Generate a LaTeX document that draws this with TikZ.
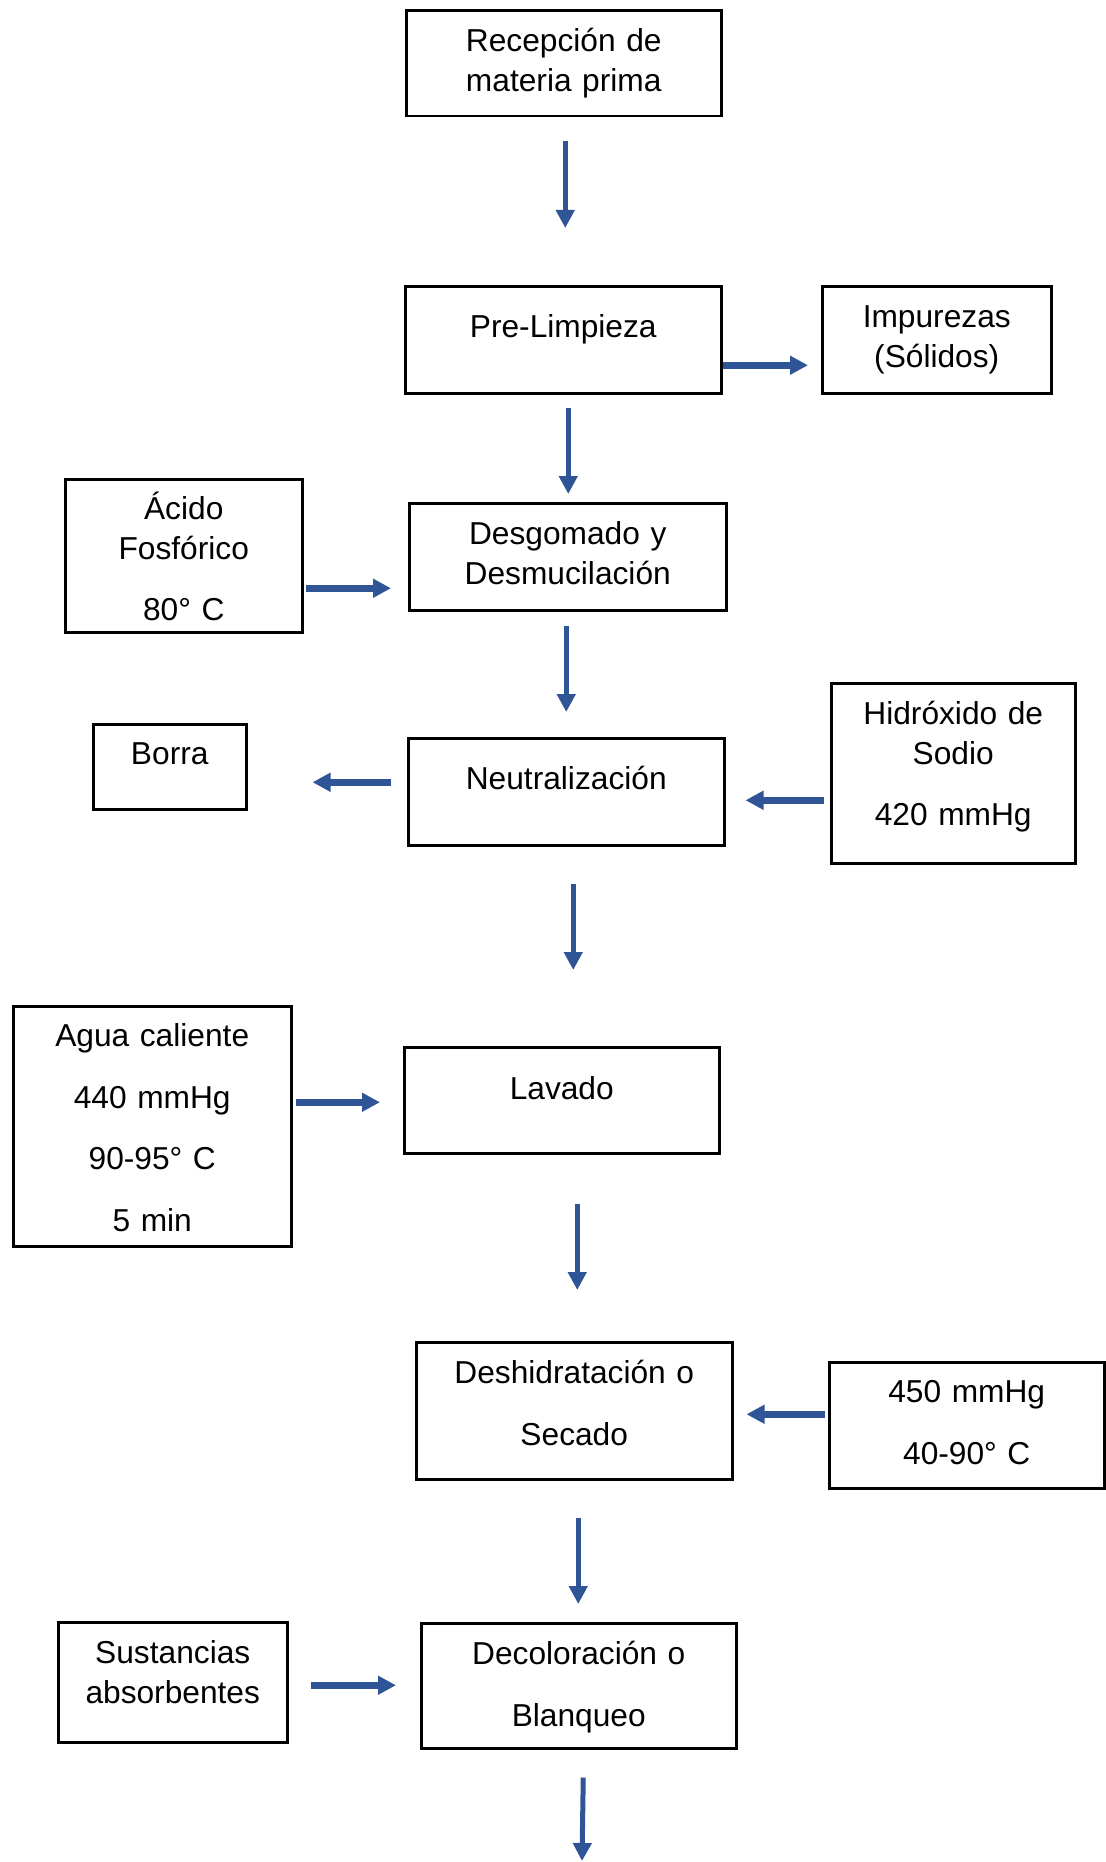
\documentclass[tikz,border=0pt]{standalone}
\usepackage{fontspec}
\setmainfont{Liberation Sans}
\usetikzlibrary{arrows.meta,calc}
\definecolor{flowblue}{RGB}{47,85,151}
\tikzset{
  box/.style={draw=black, line width=1.25pt, inner sep=0pt, align=center,
    anchor=north west, font=\fontsize{15.85}{19.75}\selectfont},
  vflow/.style={draw=flowblue, line width=2.5pt,
    -{Triangle[length=9pt,width=9pt]}},
  hflow/.style={draw=flowblue, line width=3.5pt,
    -{Triangle[length=9pt,width=9pt]}}
}
\begin{document}
\begin{tikzpicture}[x=0.5pt,y=-0.5pt]
\useasboundingbox (0,0) rectangle (1105,1862);

% process steps and side streams
\node[box, text width=157.5pt, text height=20.5pt, text depth=32.25pt] (rec) at (405,9.5)
  {Recepción de\\materia prima};
\node[box, text width=158pt, text height=25.75pt, text depth=27.75pt] (pre) at (404,285)
  {Pre-Limpieza};
\node[box, text width=114.5pt, text height=20.75pt, text depth=32.75pt] (imp) at (821,285)
  {Impurezas\\(Sólidos)};
\node[box, text width=118.5pt, text height=20.25pt, text depth=56.25pt] (aci) at (64,478)
  {Ácido\\Fosfórico\\[11pt]80° C};
\node[box, text width=158.5pt, text height=20.75pt, text depth=32.75pt] (des) at (408,502)
  {Desgomado y\\Desmucilación};
\node[box, text width=76.5pt, text height=20.25pt, text depth=22.25pt] (bor) at (92,723)
  {Borra};
\node[box, text width=158pt, text height=25.75pt, text depth=27.75pt] (neu) at (407,737)
  {Neutralización};
\node[box, text width=122pt, text height=20.75pt, text depth=69.25pt] (hid) at (830,682)
  {Hidróxido de\\Sodio\\[11pt]420 mmHg};
\node[box, text width=139pt, text height=20.25pt, text depth=99.75pt] (agu) at (12,1005)
  {Agua caliente\\[11pt]440 mmHg\\[11pt]90-95° C\\[11pt]5 min};
\node[box, text width=157.5pt, text height=26.25pt, text depth=26.75pt] (lav) at (403,1046)
  {Lavado};
\node[box, text width=158pt, text height=20.75pt, text depth=47.75pt] (deh) at (415,1341)
  {Deshidratación o\\[11pt]Secado};
\node[box, text width=137.5pt, text height=20.25pt, text depth=42.75pt] (vac) at (828,1361)
  {450 mmHg\\[11pt]40-90° C};
\node[box, text width=114.5pt, text height=20.75pt, text depth=39.25pt] (sus) at (57,1621)
  {Sustancias\\absorbentes};
\node[box, text width=157.5pt, text height=20.75pt, text depth=41.75pt] (dec) at (420,1622)
  {Decoloración o\\[11pt]Blanqueo};
\coordinate (out) at (582,1861);

% main line
\draw[vflow] ($(rec.south)+(1.5,24)$) -- ($(pre.north)+(2,-57)$);
\draw[vflow] ($(pre.south)+(5,13)$) -- ($(des.north)+(0.5,-8)$);
\draw[vflow] ($(des.south)+(-1.5,14)$) -- ($(neu.north)+(0,-25)$);
\draw[vflow] ($(neu.south)+(7,37)$) -- ($(lav.north)+(11.5,-76)$);
\draw[vflow] ($(lav.south)+(15.5,49)$) -- ($(deh.north)+(3,-51)$);
\draw[vflow] ($(deh.south)+(4,37)$) -- ($(dec.north)+(-0.5,-18)$);
\draw[vflow] ($(dec.south)+(4.5,28)$) -- (out);

% inputs and outputs
\draw[hflow] ($(pre.east)+(0,25.5)$) -- ($(imp.west)+(-13,25.5)$);
\draw[hflow] ($(aci.east)+(2,32.5)$) -- ($(des.west)+(-17,31.5)$);
\draw[hflow] ($(neu.west)+(-16,-9.5)$) -- ($(bor.east)+(65,15.5)$);
\draw[hflow] ($(hid.west)+(-6,27)$) -- ($(neu.east)+(20,8.5)$);
\draw[hflow] ($(agu.east)+(3,-24)$) -- ($(lav.west)+(-23,2)$);
\draw[hflow] ($(vac.west)+(-3,-11)$) -- ($(deh.east)+(13,3.5)$);
\draw[hflow] ($(sus.east)+(22,3)$) -- ($(dec.west)+(-24,-0.5)$);
\end{tikzpicture}
\end{document}
